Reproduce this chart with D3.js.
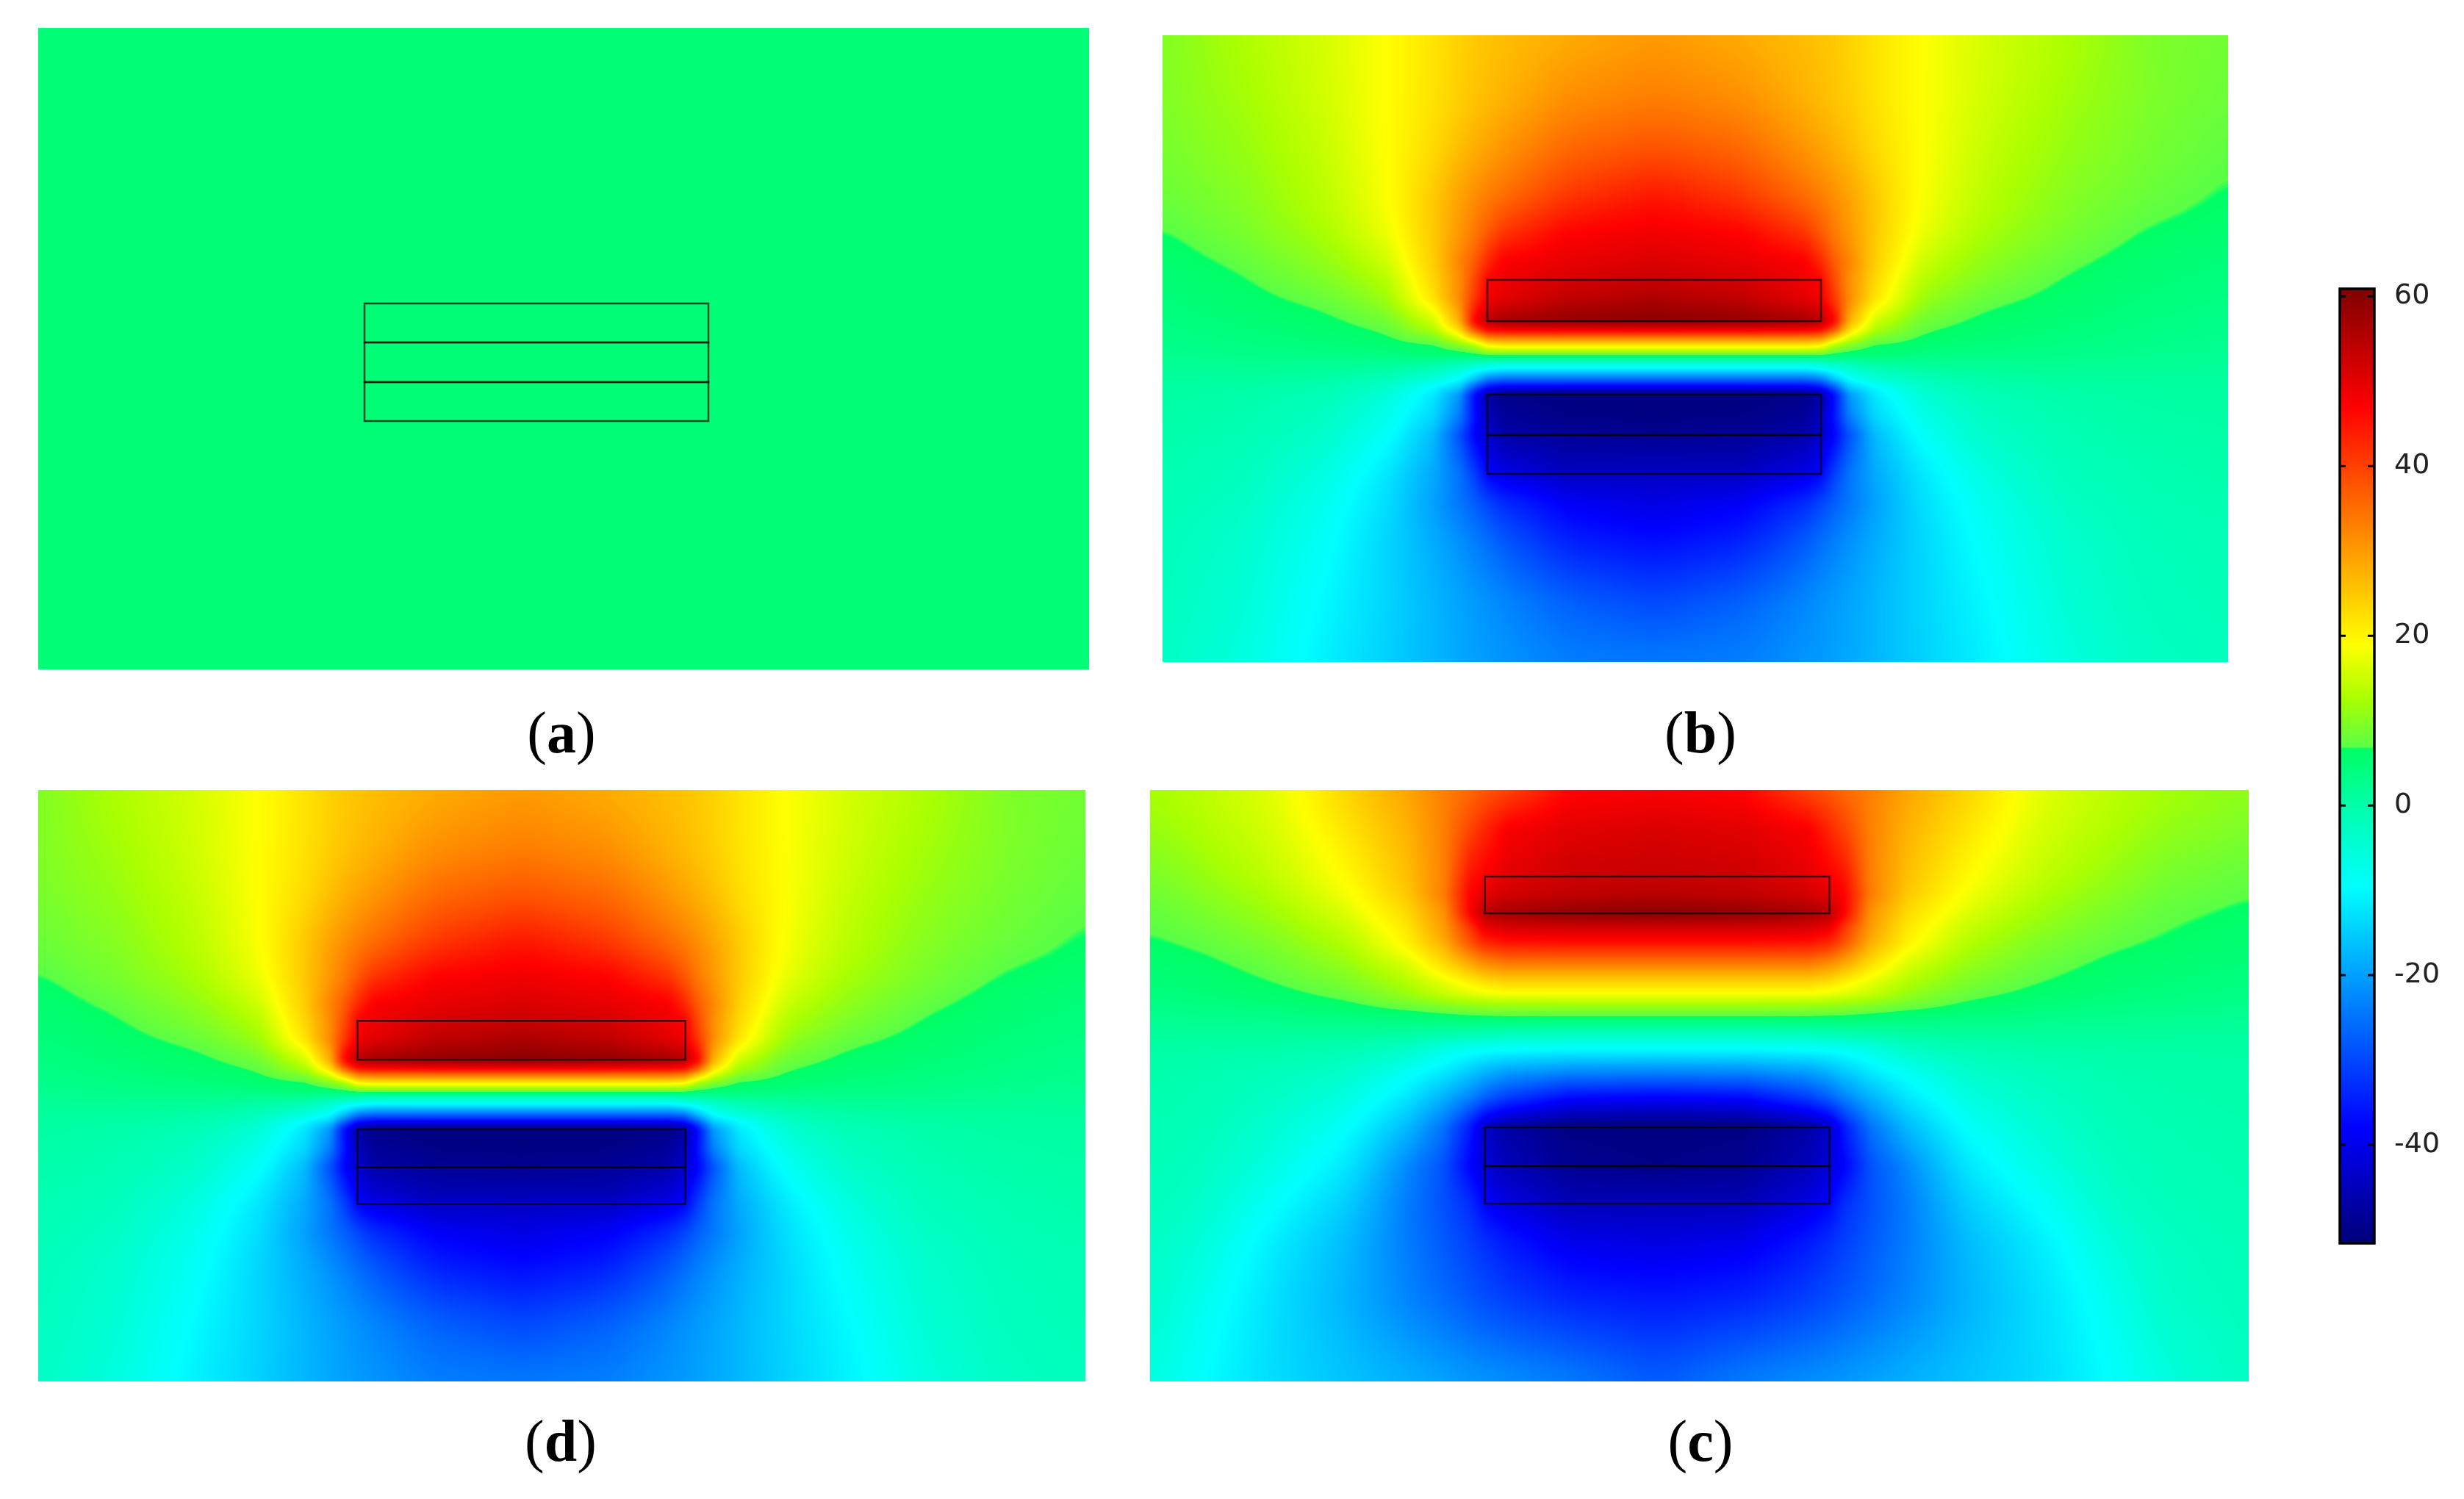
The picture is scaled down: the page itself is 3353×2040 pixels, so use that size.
<!DOCTYPE html>
<html><head><meta charset="utf-8">
<script src="https://cdn.jsdelivr.net/npm/d3@7"></script>
<style>html,body{margin:0;padding:0;background:#fff}#wrap{position:relative;width:3353px;height:2040px;overflow:hidden}canvas,svg{position:absolute;left:0;top:0}</style>
</head><body><div id="wrap"></div>
<script>
// colour scale
const legendValues=[-51.6,-38,-23.5,-9.5,0,6.7,6.9,12.6,19,33,47,60.9];
const legendColors=["#000078","#0000ff","#0080ff","#00ffff","#00ffaa","#00ff64","#5aff46","#aaff00","#ffff00","#ff8000","#ff0000","#800000"];
const legendTicks=[60,40,20,0,-20,-40];
const panelLabels=["a","b","d","c"];

// Panel (a): uniform field
const fieldA=5;
const plateLinesA=[-80,-27,27,80];

// Panels (b) and (d): potential read at |x| (columns) and y (rows), model units
const colsB=[0,120,205,226,245,265,300,365,450,560,669,781];
const rowsB=[-439,-350,-280,-220,-170,-130,-106,-80,-50,-38,-27,-15,-4,6,16,28,40,50,80,105,158,200,250,330,414];
const fieldB=[
[30,28,26,25.5,25,24,22,19,15.8,13,9.5,8.5],
[33.5,31.5,27.5,26.5,25.5,24.5,22,19,15.5,12,9.5,8],
[38.5,36,31,29.5,28,26.5,23,19,14.5,11,8.8,7.2],
[45,41,35,33.5,31.5,29.5,25,18.5,13.8,10,8,6.5],
[48.5,47,41.5,37.5,33.5,30.5,25,17.5,12.5,9,6.6,5.6],
[51,49.5,47.5,43,37,32.5,24.5,15,10.5,7.4,5.4,4.5],
[53,51.5,48.5,47,39,31.5,23.5,13,9.5,6.5,5,4.2],
[56,54,50,48.5,41,32,22,11.5,7.6,5.8,4.5,3.8],
[60,59,57,55,47,28,15.5,8,6,5,4,3.3],
[49,49,48,47,38,23,13,7,5.5,4.5,3.6,3],
[33,33,33,32,24,16,9,6.4,5,4.2,3.4,2.8],
[19,19,19,18,11,8.5,6.2,5.4,4.6,3.8,3.1,2.6],
[6.8,6.8,6.8,6.8,6,5.5,5,4.6,4,3.3,2.8,2.3],
[-3,-3,-3,-2,-1,0,1.5,2.5,2.8,2.6,2.2,1.9],
[-12,-12,-12,-10,-8,-5,-2,0.5,1.5,1.8,1.7,1.6],
[-25,-25,-25,-23,-15,-9,-5,-1.5,0.3,1,1.2,1.2],
[-40,-40,-39.5,-37,-28,-15,-10,-4,-1,0.3,0.8,0.9],
[-51,-51,-50,-47,-37,-21,-12,-5,-1.5,0,0.6,0.8],
[-50.5,-50,-48,-45,-36,-24,-14,-7,-2.5,-0.5,0.3,0.6],
[-49,-48.5,-46.5,-43,-38,-29,-17,-8.5,-3.5,-1,0,0.4],
[-44,-44,-40.5,-38,-31,-25,-19,-12,-6,-2,-0.8,-0.2],
[-40.5,-38.5,-33,-30,-27,-24.5,-20,-13,-7.5,-3,-1.2,-0.6],
[-37,-34.5,-28,-25.5,-23.5,-21.5,-18.5,-14,-8.5,-4,-1.8,-1],
[-30,-27,-22.8,-21.5,-20.5,-19.5,-17.5,-14,-10,-4.8,-2.2,-1.4],
[-24,-23.5,-21,-20.5,-20,-19,-17.5,-14.5,-11,-6,-2.8,-2]
];
const plateXB=227;
const plateLinesB=[[-106,-50],[50,105],[105,158]];

// Panel (c)
const colsC=[0,120,205,234,255,290,340,420,520,620,690,805];
const rowsC=[-313,-260,-195,-170,-145,-125,-105,-75,-50,-36,-22,-5,15,39,72,105,145,199,250,300,380,492];
const fieldC=[
[47.5,46.5,39.5,37.5,35.5,33,29,24,17,14,12.5,10.5],
[51,50,47.5,43,39.5,33,27.5,22,16,13,11,9.3],
[53,52.5,50,47.5,45,33,26,19.5,14.5,11,9,7.5],
[55,54,52,50,47,33.5,25,18.5,13,10,8.2,7],
[60,59,57,55,47,31,23,16.5,12,8.8,7.4,6.2],
[52,52,51,49,41,30,21.5,14.5,10.5,8,6.9,5.7],
[45.5,45.5,45,43,38,28,20.5,13.5,9.5,7.4,6.6,5.3],
[33,33,33,31,28,22.5,16,11,7.8,6,5.3,4.6],
[23,23,23,22,20,17,13,9,7,5.2,4.7,4],
[19,19,19,18,17,15,11.5,8.2,6,4.8,4.3,3.7],
[12.6,12.6,12.3,12,11.5,10.5,8.8,6.8,5,4.2,3.8,3.3],
[6.8,6.8,6.8,6.6,6.4,5.8,5,4,3.2,2.8,2.5,2.2],
[-0.6,-0.6,-0.3,0.2,0.6,1,1.8,1.8,1.8,1.6,1.5,1.3],
[-9.5,-9.5,-9,-8.5,-8,-6.5,-3,-1,-0.2,0.3,0.5,0.6],
[-23.5,-23,-20.5,-18,-15.5,-12,-8.5,-4,-1.7,-0.6,-0.2,0],
[-38,-37,-31,-27,-23,-18,-12,-6,-3,-1,-0.5,-0.2],
[-51,-50.5,-47,-43.5,-35,-25,-17,-9,-4.5,-1.5,-0.8,-0.4],
[-50,-49,-45,-42,-38,-29,-22.5,-12,-6.5,-2.5,-1.3,-0.6],
[-45,-45,-41,-38,-33,-29,-24,-15,-9,-3.5,-1.8,-0.9],
[-41,-40,-35.5,-33,-31,-28,-24,-17,-11.5,-5.2,-2.8,-1.4],
[-35.5,-34,-31,-29.5,-28,-26,-23,-18,-13,-7.5,-3.5,-1.8],
[-27.5,-23.5,-21.5,-21,-20.5,-19.5,-18,-16,-13.5,-9.5,-6,-2.5]
];
const plateXC=234.5;
const plateLinesC=[[-195,-145],[146,199],[199,250]];

const W=3353,H=2040;
const wrap=d3.select("#wrap");
const color=d3.scaleLinear().domain(legendValues).range(legendColors).clamp(true);

const lutN=2048,lut=new Uint8Array(lutN*3);
const lutDom=[-55,65];
for(let i=0;i<lutN;i++){const c=d3.rgb(color(lutDom[0]+(lutDom[1]-lutDom[0])*i/(lutN-1)));lut[3*i]=c.r;lut[3*i+1]=c.g;lut[3*i+2]=c.b;}

function sampler(cols,rows,field){
  return function(ax,y){
    let j=Math.max(1,Math.min(cols.length-1,d3.bisectRight(cols,ax)));
    let i=Math.max(1,Math.min(rows.length-1,d3.bisectRight(rows,y)));
    const tx=Math.max(0,Math.min(1,(ax-cols[j-1])/(cols[j]-cols[j-1])));
    const ty=Math.max(0,Math.min(1,(y-rows[i-1])/(rows[i]-rows[i-1])));
    const a=field[i-1][j-1],b=field[i-1][j],c=field[i][j-1],d=field[i][j];
    return (a*(1-tx)+b*tx)*(1-ty)+(c*(1-tx)+d*tx)*ty;
  };
}
const clamp01=v=>Math.max(0,Math.min(1,v));

// sharp: blur near the plates; soft: blur further out. zone=[xLimit,yTop,yBottom]
function drawField(x,y,cols,rows,field,zone){
  const [x0,x1]=x.range(),[y0,y1]=y.range();
  const w=x1-x0,h=y1-y0;
  const cv=wrap.append("canvas").attr("width",w).attr("height",h)
    .style("left",x0+"px").style("top",y0+"px");
  const ctx=cv.node().getContext("2d");
  const s=sampler(cols,rows,field);
  const sharp=new Float64Array(w*h);
  const mask=new Float64Array(w*h);
  for(let r=0;r<h;r++){const my=y.invert(y0+r+.5);
    for(let q=0;q<w;q++){
      const ax=Math.abs(x.invert(x0+q+.5));
      sharp[r*w+q]=s(ax,my);
      const t=Math.max(clamp01((ax-zone[0])/120),clamp01((zone[1]-my)/90),clamp01((my-zone[2])/90));
      mask[r*w+q]=t*t*(3-2*t);
    }}
  const soft=Float64Array.from(sharp);
  d3.blur2({data:sharp,width:w,height:h},3);
  d3.blur2({data:soft,width:w,height:h},16);
  const img=ctx.createImageData(w,h);
  for(let k=0;k<w*h;k++){
    const v=sharp[k]*(1-mask[k])+soft[k]*mask[k];
    const i=Math.max(0,Math.min(lutN-1,Math.round((v-lutDom[0])/(lutDom[1]-lutDom[0])*(lutN-1))));
    img.data[4*k]=lut[3*i];img.data[4*k+1]=lut[3*i+1];img.data[4*k+2]=lut[3*i+2];img.data[4*k+3]=255;
  }
  ctx.putImageData(img,0,0);
}

const xB=d3.scaleLinear([-669,781],[1582,3032]), yB=d3.scaleLinear([-439,414],[48,901]);
const xD=d3.scaleLinear([-669,781],[52,1477]),  yD=d3.scaleLinear([-439,414],[1075,1880]);
const xC=d3.scaleLinear([-690,805],[1565,3060]),yC=d3.scaleLinear([-313,492],[1075,1880]);
const xA=d3.scaleLinear([-678,752],[52,1482]),  yA=d3.scaleLinear([-455,418],[38,911]);

drawField(xB,yB,colsB,rowsB,fieldB,[290,-140,170]);
drawField(xD,yD,colsB,rowsB,fieldB,[290,-140,170]);
drawField(xC,yC,colsC,rowsC,fieldC,[310,-320,270]);

const svg=wrap.append("svg").attr("width",W).attr("height",H).attr("viewBox",`0 0 ${W} ${H}`);

// Panel a
svg.append("rect").attr("x",xA.range()[0]).attr("y",yA.range()[0])
  .attr("width",xA.range()[1]-xA.range()[0]).attr("height",yA.range()[1]-yA.range()[0])
  .attr("fill",color(fieldA));

function plates(x,y,half,bands){
  svg.append("g").selectAll("rect").data(bands).join("rect")
    .attr("x",x(-half)).attr("width",x(half)-x(-half))
    .attr("y",d=>y(d[0])).attr("height",d=>y(d[1])-y(d[0]))
    .attr("fill","none").attr("stroke","#000").attr("stroke-opacity",.72).attr("stroke-width",2.5);
}
plates(xA,yA,234,d3.pairs(plateLinesA));
plates(xB,yB,plateXB,plateLinesB);
plates(xD,yD,plateXB,plateLinesB);
plates(xC,yC,plateXC,plateLinesC);

// Labels
const labelPos=d3.scaleOrdinal().domain(panelLabels).range([[764,1024],[2314,1024],[763,1988],[2314,1988]]);
const lab=svg.append("g").selectAll("text").data(panelLabels).join("text")
  .attr("x",d=>labelPos(d)[0]).attr("y",d=>labelPos(d)[1]).attr("text-anchor","middle")
  .attr("font-family","'Liberation Serif',serif").attr("font-size",80).attr("fill","#000");
lab.append("tspan").text("(");
lab.append("tspan").attr("font-weight","bold").text(d=>d);
lab.append("tspan").text(")");

// Colour bar
const barY=d3.scaleLinear([-51.6,60.9],[1692,393]);
const barL=3184,barR=3231;
const bar=svg.append("g");
bar.selectAll("rect").data(d3.range(393,1692)).join("rect")
  .attr("x",barL).attr("width",barR-barL).attr("y",d=>d).attr("height",1.2)
  .attr("fill",d=>color(barY.invert(d+.5)));
bar.append("rect").attr("x",barL).attr("y",393).attr("width",barR-barL).attr("height",1299)
  .attr("fill","none").attr("stroke","#000").attr("stroke-width",3.5);
const ticks=bar.append("g").selectAll("g").data(legendTicks).join("g")
  .attr("transform",d=>`translate(0,${barY(d)})`);
ticks.append("line").attr("x1",barL).attr("x2",barL+8).attr("stroke","#000").attr("stroke-width",3);
ticks.append("line").attr("x1",barR-9).attr("x2",barR).attr("stroke","#000").attr("stroke-width",3);
ticks.append("text").attr("x",3258).attr("y",-4).attr("dy","0.36em")
  .attr("font-family","'DejaVu Sans',sans-serif").attr("font-size",38).attr("fill","#222").text(d=>d);
</script></body></html>
